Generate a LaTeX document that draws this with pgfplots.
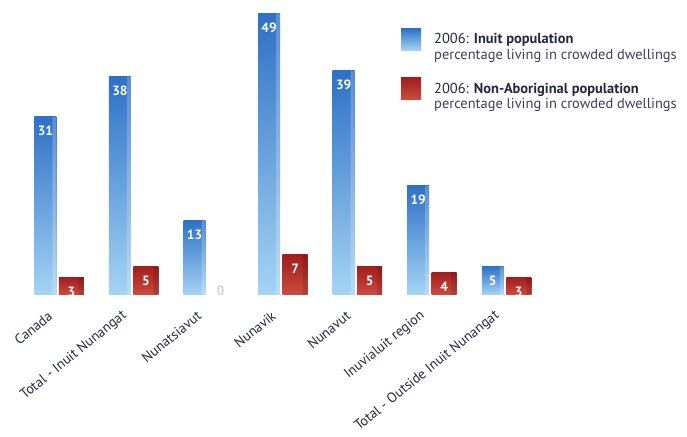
\documentclass[border=0pt]{standalone}
\usepackage{fontspec}
\setmainfont{PT Sans}
\usepackage{pgfplots}
\pgfplotsset{compat=1.18}
\definecolor{btop}{RGB}{45,112,198}
\definecolor{bbot}{RGB}{165,212,245}
\definecolor{rtop}{RGB}{160,30,30}
\definecolor{rbot}{RGB}{205,75,62}
\definecolor{txt}{RGB}{35,40,65}
\definecolor{txt2}{RGB}{55,65,95}
\pgfplotsset{
 bluebar/.style={draw=none, top color=btop, bottom color=bbot, bar shift=-13.5bp, bar width=22bp, forget plot},
 redbar/.style={draw=none, top color=rtop, bottom color=rbot, bar shift=12.5bp, bar width=25bp, forget plot},
}
\newcommand{\bbar}[2]{\addplot[bluebar] coordinates {(#1,#2)};}
\newcommand{\rbar}[2]{\addplot[redbar] coordinates {(#1,#2)};}
\begin{document}
\begin{tikzpicture}
\path[use as bounding box] (0,0) rectangle (687bp,437bp);
\begin{axis}[
 at={(14.2bp,142bp)}, anchor=south west,
 scale only axis, width=536.8bp, height=287.5bp,
 xmin=-0.6, xmax=6.6, ymin=0, ymax=50,
 ybar,
 hide y axis,
 axis x line*=bottom, x axis line style={draw=none},
 xtick={0,...,6}, major tick length=0pt,
 xticklabels={Canada, Total - Inuit Nunangat, Nunatsiavut, Nunavik, Nunavut, Inuvialuit region, Total - Outside Inuit Nunangat},
 xticklabel style={font=\fontsize{14}{15}\selectfont, text=txt, xshift=-6bp, yshift=-17bp, rotate=39, anchor=east},
 /pgf/number format/assume math mode=true,
 nodes near coords,
 every node near coord/.append style={anchor=north, text=white, font=\bfseries\fontsize{13.5}{14}\selectfont, yshift=-6bp},
 legend style={at={(0.715,0.935)}, anchor=north west, draw=none, fill=none,
   font=\fontsize{14.5}{15.5}\selectfont, text=txt, row sep=22bp},
 legend cell align=left,
]
% 2006: Inuit population
\bbar{0}{31}
\bbar{1}{38}
\bbar{2}{13}
\bbar{3}{49}
\bbar{4}{39}
\bbar{5}{19}
\bbar{6}{5}
% 2006: Non-Aboriginal population
\rbar{0}{3}
\rbar{1}{5}
\rbar{3}{7}
\rbar{4}{5}
\rbar{5}{4}
\rbar{6}{3}
\addplot[draw=none, fill=rbot, bar shift=12.5bp, bar width=25bp, forget plot,
  every node near coord/.append style={anchor=south, text=gray!35, yshift=2bp}]
 coordinates {(2,0)};
% side highlights
\addplot[draw=none, fill=white, fill opacity=0.22, bar shift=-4.5bp, bar width=4bp, forget plot, nodes near coords={}]
 coordinates {(0,31) (1,38) (2,13) (3,49) (4,39) (5,19) (6,5)};
\addplot[draw=none, fill=black, fill opacity=0.12, bar shift=22.5bp, bar width=5bp, forget plot, nodes near coords={}]
 coordinates {(0,3) (1,5) (3,7) (4,5) (5,4) (6,3)};
\addlegendimage{legend image code/.code={\path[draw=none, top color=btop, bottom color=bbot] (0bp,-7bp) rectangle (20bp,15bp);}}
\addlegendentry{\begin{tabular}{@{\hspace{11bp}}l@{}}2006: \textbf{Inuit population}\\\color{txt2}percentage living in crowded dwellings\end{tabular}}
\addlegendimage{legend image code/.code={\path[draw=none, top color=rtop, bottom color=rbot] (0bp,-7bp) rectangle (20bp,15bp);}}
\addlegendentry{\begin{tabular}{@{\hspace{11bp}}l@{}}2006: \textbf{Non-Aboriginal population}\\\color{txt2}percentage living in crowded dwellings\end{tabular}}
\end{axis}
\end{tikzpicture}
\end{document}
